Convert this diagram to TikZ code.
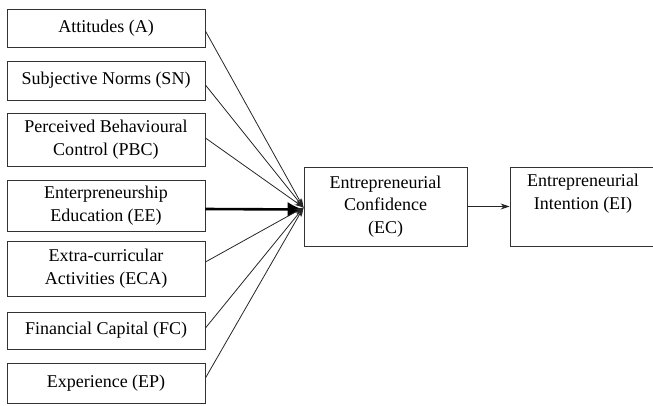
\documentclass[tikz,border=0pt]{standalone}
\usepackage{fontspec}
\setmainfont{Liberation Serif}
\newfontfamily\timesfam{Liberation Serif}
\usetikzlibrary{arrows.meta}
\begin{document}
\begin{tikzpicture}[x=1pt,y=-1pt,
  box/.style={draw=black!80,line width=0.9pt,minimum width=198pt,inner sep=0pt,align=center,font=\timesfam\fontsize{18}{22.5}\selectfont},
  thin/.style={draw=black!85,line width=0.8pt,-{Stealth[length=9pt,width=6pt]}},
  thick/.style={draw=black,line width=2.6pt,-{Latex[length=16pt,width=15pt]}}]
\useasboundingbox (0,0) rectangle (653,405);
\node[box,minimum height=38pt] (a) at (106,28) {Attitudes (A)};
\node[box,minimum height=39pt] (sn) at (106,80.5) {Subjective Norms (SN)};
\node[box,minimum height=53pt] (pbc) at (106,139.5) {Perceived Behavioural\\Control (PBC)};
\node[box,minimum height=51pt] (ee) at (106,205.5) {Enterpreneurship\\Education (EE)};
\node[box,minimum height=55pt] (eca) at (106,268.5) {Extra-curricular\\Activities (ECA)};
\node[box,minimum height=37pt] (fc) at (106,330.5) {Financial Capital (FC)};
\node[box,minimum height=40pt] (ep) at (106,383) {Experience (EP)};
\node[box,minimum width=163pt,minimum height=79pt] (ec) at (385.5,206.5) {Entrepreneurial\\Confidence\\(EC)};
\begin{scope}
\clip (0,0) rectangle (653,405);
\node[box,minimum width=146pt,minimum height=79pt] (ei) at (583,206.5) {Entrepreneurial\\Intention (EI)\\\strut};
\end{scope}
\draw[thin] ([yshift=-3pt]a.east) -- ([yshift=-1pt]ec.west);
\draw[thin] ([yshift=-4.5pt]sn.east) -- ([yshift=-1pt]ec.west);
\draw[thin] ([yshift=1.5pt]pbc.east) -- ([yshift=-1pt]ec.west);
\draw[thick] ([yshift=-3.5pt]ee.east) -- ([yshift=-3pt]ec.west);
\draw[thin] ([yshift=6.5pt]eca.east) -- ([yshift=-1pt]ec.west);
\draw[thin] ([yshift=2.5pt]fc.east) -- ([yshift=-1pt]ec.west);
\draw[thin] ([yshift=5pt]ep.east) -- ([yshift=-1pt]ec.west);
\draw[thin] (ec.east) -- (ei.west);
\end{tikzpicture}
\end{document}
